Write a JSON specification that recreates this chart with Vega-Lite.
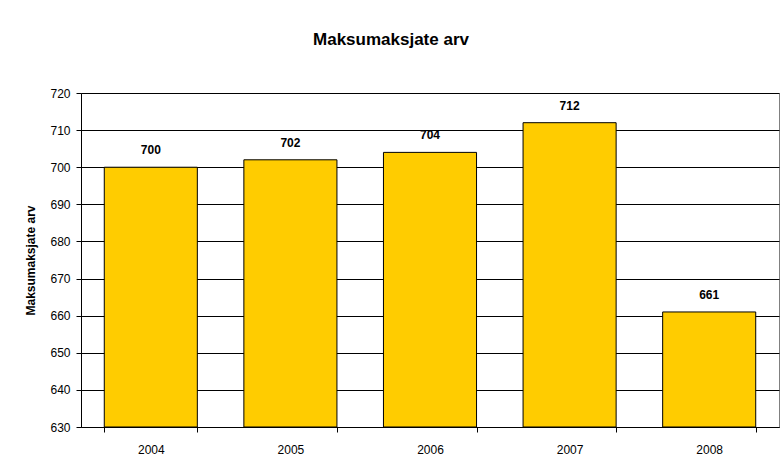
{
  "$schema": "https://vega.github.io/schema/vega-lite/v6.json",
  "width": 698,
  "height": 334,
  "autosize": {"type": "none"},
  "padding": {"left": 81, "top": 93, "right": 2, "bottom": 47},
  "background": "white",
  "title": {
    "text": "Maksumaksjate arv",
    "font": "Liberation Sans",
    "fontSize": 17,
    "fontWeight": "bold",
    "color": "black",
    "anchor": "middle",
    "dx": -39,
    "offset": 38
  },
  "data": {
    "values": [
      {"year": "2004", "count": 700},
      {"year": "2005", "count": 702},
      {"year": "2006", "count": 704},
      {"year": "2007", "count": 712},
      {"year": "2008", "count": 661}
    ]
  },
  "encoding": {
    "x": {
      "field": "year",
      "type": "nominal",
      "scale": {"paddingInner": 0.3333, "paddingOuter": 0.1667},
      "axis": {
        "title": null,
        "labelAngle": 0,
        "labelFont": "Liberation Sans",
        "labelFontSize": 12,
        "labelColor": "black",
        "labelPadding": 12,
        "tickBand": "extent",
        "tickSize": 5,
        "tickColor": "black",
        "domainColor": "black",
        "grid": false
      }
    },
    "y": {
      "field": "count",
      "type": "quantitative",
      "scale": {"domain": [630, 720], "zero": false, "nice": false},
      "axis": {
        "title": "Maksumaksjate arv",
        "titleFont": "Liberation Sans",
        "titleFontSize": 12,
        "titleFontWeight": "bold",
        "titleColor": "black",
        "titlePadding": 12,
        "values": [630, 640, 650, 660, 670, 680, 690, 700, 710, 720],
        "labelFont": "Liberation Sans",
        "labelFontSize": 12,
        "labelColor": "black",
        "labelPadding": 6,
        "tickSize": 5,
        "tickColor": "black",
        "domainColor": "black",
        "grid": true,
        "gridColor": "black",
        "gridOpacity": 1,
        "gridWidth": 1
      }
    }
  },
  "layer": [
    {
      "mark": {"type": "bar", "color": "#FFCC00", "stroke": "black", "strokeWidth": 1},
      "encoding": {"y2": {"datum": 630}}
    },
    {
      "mark": {"type": "text", "font": "Liberation Sans", "fontSize": 12, "fontWeight": "bold", "color": "black", "baseline": "bottom", "dy": -10},
      "encoding": {"text": {"field": "count", "type": "quantitative"}}
    }
  ],
  "config": {
    "view": {"stroke": "#808080", "strokeWidth": 1}
  }
}
